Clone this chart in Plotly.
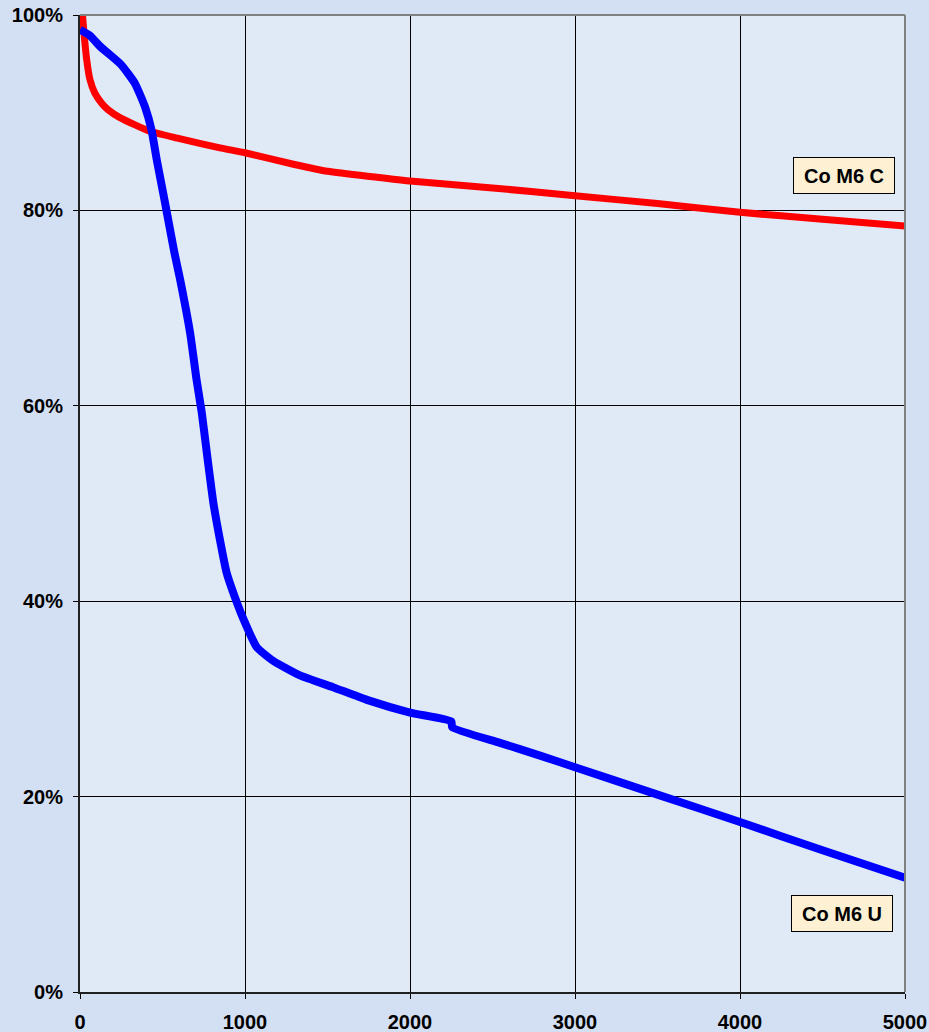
import plotly.graph_objects as go

# Series "Co M6 C" (red)
c_x = [15, 25, 40, 60, 90, 130, 170, 242, 424, 590, 848, 1000, 1300, 1500,
       2000, 2500, 3000, 3500, 4000, 4500, 5000]
c_y = [100.0, 98.0, 95.5, 93.4, 92.0, 91.0, 90.3, 89.5, 88.1, 87.4, 86.4, 85.9,
       84.7, 84.0, 83.0, 82.3, 81.5, 80.7, 79.8, 79.1, 78.4]

# Series "Co M6 U" (blue)
u_x = [0, 60, 121, 190, 250, 333, 394, 434, 465, 515, 573, 606, 667, 707, 738,
       776, 808, 848, 889, 939, 1000, 1071, 1170, 1333, 1533, 1739, 2000,
       2250, 2256, 2545, 2788, 3000, 3500, 4000, 4500, 5000]
u_y = [98.5, 97.9, 96.8, 95.8, 94.9, 93.0, 90.6, 88.2, 85.2, 80.8, 75.6, 73.0,
       67.5, 62.6, 59.3, 54.2, 50.1, 46.3, 42.9, 40.4, 37.8, 35.3, 33.9, 32.4,
       31.2, 29.9, 28.6, 27.7, 27.1, 25.5, 24.2, 23.0, 20.2, 17.4, 14.5, 11.7]

x_ticks = [0, 1000, 2000, 3000, 4000, 5000]
y_ticks = [0, 20, 40, 60, 80, 100]
y_tick_labels = ["0%", "20%", "40%", "60%", "80%", "100%"]

label_c = "Co M6 C"
label_u = "Co M6 U"

fig = go.Figure()
fig.add_trace(go.Scatter(x=c_x, y=c_y, mode="lines", name=label_c,
                         line=dict(color="#ff0000", width=7, shape="spline", smoothing=0.5)))
fig.add_trace(go.Scatter(x=u_x, y=u_y, mode="lines", name=label_u,
                         line=dict(color="#0000ff", width=8, shape="spline", smoothing=0.5)))

font_family = "Liberation Sans, Arial, sans-serif"

fig.update_layout(
    width=929, height=1032,
    margin=dict(l=80, r=24, t=15, b=40, autoexpand=False),
    paper_bgcolor="#d3dff3",
    plot_bgcolor="#dfeaf6",
    showlegend=False,
    font=dict(family=font_family, color="black"),
    xaxis=dict(range=[0, 5000], tickvals=x_ticks, ticktext=[str(v) for v in x_ticks],
               automargin=False,
               showgrid=True, gridcolor="black", gridwidth=1, zeroline=False,
               showline=True, linecolor="#202020", linewidth=2,
               ticks="outside", ticklen=5, tickcolor="black", tickwidth=1,
               ticklabelstandoff=6,
               tickfont=dict(size=20, family=font_family, weight="bold")),
    yaxis=dict(range=[0, 100], tickvals=y_ticks, ticktext=y_tick_labels,
               automargin=False,
               showgrid=True, gridcolor="black", gridwidth=1, zeroline=False,
               showline=True, linecolor="#202020", linewidth=2,
               ticks="outside", ticklen=5, tickcolor="black", tickwidth=1,
               ticklabelstandoff=6,
               tickfont=dict(size=20, family=font_family, weight="bold")),
)

# gray top/right border
fig.add_shape(type="line", xref="paper", yref="paper", x0=0, x1=1, y0=1, y1=1,
              line=dict(color="#808080", width=2), layer="above")
fig.add_shape(type="line", xref="paper", yref="paper", x0=1, x1=1, y0=0, y1=1,
              line=dict(color="#808080", width=2), layer="above")

for txt, xv, yv in [(label_c, 4630, 83.6), (label_u, 4618, 8.0)]:
    fig.add_annotation(x=xv, y=yv, text=txt, showarrow=False,
                       font=dict(size=20, family=font_family, weight="bold", color="black"),
                       bgcolor="#fdf0d3", bordercolor="black", borderwidth=1,
                       borderpad=6, width=88, height=23)

fig.write_html(
    "out.html",
    config={"displayModeBar": False},
    post_script="document.body.style.margin='0';document.body.style.padding='0';"
                "document.body.style.overflow='hidden';",
)
